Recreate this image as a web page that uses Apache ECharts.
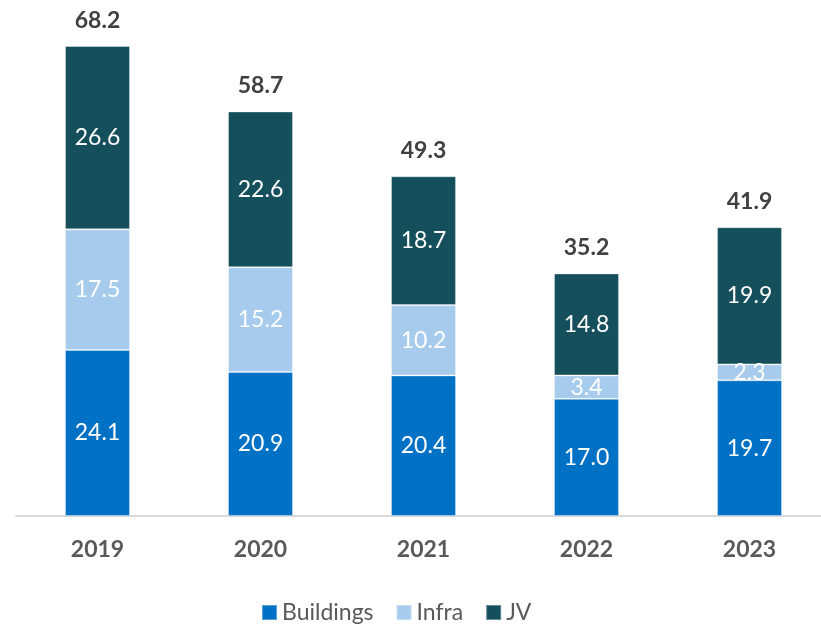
<!DOCTYPE html>
<html>
<head>
<meta charset="utf-8">
<script src="https://cdn.jsdelivr.net/npm/echarts@6/dist/echarts.min.js"></script>
<style>
  html, body { margin: 0; padding: 0; background: #fff; overflow: hidden; }
  #chart { width: 831px; height: 624px; }
</style>
</head>
<body>
<div id="chart"></div>
<script>
// chart data
var years = ['2019', '2020', '2021', '2022', '2023']
var buildings = [24.1, 20.9, 20.4, 17.0, 19.7]
var infra = [17.5, 15.2, 10.2, 3.4, 2.3]
var jv = [26.6, 22.6, 18.7, 14.8, 19.9]
var totals = [68.2, 58.7, 49.3, 35.2, 41.9]

var fontFam = 'Lato, "Open Sans", sans-serif'
var chart = echarts.init(document.getElementById('chart'))

const segLabel = {
  show: true,
  position: 'inside',
  color: '#fff',
  fontFamily: fontFam,
  fontSize: 23,
  formatter: function (p) { return p.value.toFixed(1) }
}
const serTmpl = {
  type: 'bar',
  stack: 'all',
  barWidth: 65,
  label: segLabel,
  itemStyle: { borderColor: 'rgba(255,255,255,0.35)', borderWidth: 1 }
}

var opt = {
  animation: false,
  grid: { left: 16, right: 0, top: 33.6, bottom: 108 },
  legend: {
    data: ['Buildings', 'Infra', 'JV'],
    top: 596,
    left: 256,
    itemWidth: 15,
    itemHeight: 15,
    itemGap: 22,
    icon: 'rect',
    textStyle: { color: '#595959', fontSize: 23, fontFamily: fontFam, padding: [0, 0, 0, 0] }
  },
  xAxis: {
    type: 'category',
    data: years,
    axisLine: { lineStyle: { color: '#d9d9d9', width: 2 } },
    axisTick: { show: false },
    axisLabel: { color: '#595959', fontSize: 23, fontWeight: 'bold', fontFamily: fontFam, margin: 22 }
  },
  yAxis: {
    type: 'value',
    min: 0,
    max: 70,
    show: false,
    splitLine: { show: false }
  },
  series: [
    Object.assign({}, serTmpl, { name: 'Buildings', data: buildings, itemStyle: Object.assign({}, serTmpl.itemStyle, { color: '#0071C5' }) }),
    Object.assign({}, serTmpl, { name: 'Infra', data: infra, itemStyle: Object.assign({}, serTmpl.itemStyle, { color: '#A6CBEC' }) }),
    Object.assign({}, serTmpl, { name: 'JV', data: jv, itemStyle: Object.assign({}, serTmpl.itemStyle, { color: '#154F5B' }) }),
    {
      name: 'Total',
      type: 'bar',
      stack: 'all',
      barWidth: 65,
      data: totals.map(function () { return 0 }),
      itemStyle: { color: 'transparent' },
      label: {
        show: true,
        position: 'top',
        distance: 14,
        color: '#404040',
        fontSize: 23,
        fontWeight: 'bold',
        fontFamily: fontFam,
        formatter: function (p) { return totals[p.dataIndex].toFixed(1) }
      }
    }
  ]
}
chart.setOption(opt)
</script>
</body>
</html>
